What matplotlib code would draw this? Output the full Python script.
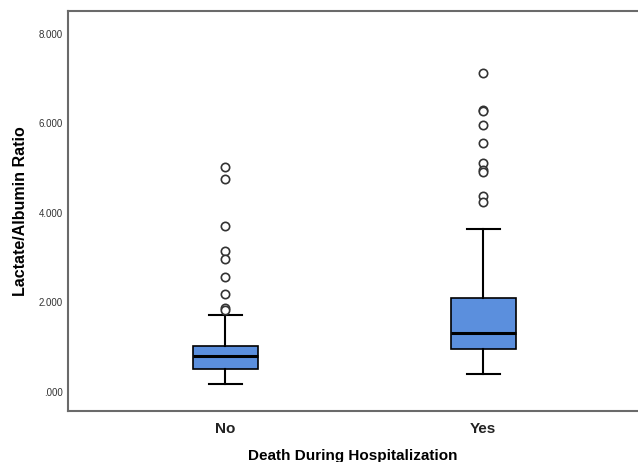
import numpy as np
import matplotlib.pyplot as plt

plt.rcParams['font.family'] = ['Liberation Sans', 'DejaVu Sans']

groups = ['No', 'Yes']
q1 = [0.51, 0.96]
median = [0.80, 1.32]
q3 = [1.03, 2.10]
whislo = [0.18, 0.40]
whishi = [1.72, 3.64]
outliers_no = [5.02, 4.76, 3.71, 3.15, 2.97, 2.57, 2.19, 1.88, 1.83]
outliers_yes = [7.13, 6.31, 6.29, 5.97, 5.56, 5.12, 4.96, 4.92, 4.38, 4.24]
yticks = [0, 2, 4, 6, 8]
ytick_labels = ['.000', '2.000', '4.000', '6.000', '8.000']

fig = plt.figure(figsize=(6.38, 4.62), dpi=100)
ax = fig.add_axes([0.1066, 0.1104, 0.8934, 0.8658])

stats = []
for i, g in enumerate(groups):
    stats.append({'label': g, 'q1': q1[i], 'med': median[i], 'q3': q3[i],
                  'whislo': whislo[i], 'whishi': whishi[i],
                  'fliers': [outliers_no, outliers_yes][i]})

ax.bxp(stats, positions=[1, 2], widths=0.252, patch_artist=True,
       boxprops=dict(facecolor='#5b8fdd', edgecolor='black', linewidth=1.2),
       medianprops=dict(color='black', linewidth=2.2),
       whiskerprops=dict(color='black', linewidth=1.5),
       capprops=dict(color='black', linewidth=1.5),
       capwidths=0.128,
       flierprops=dict(marker='o', markersize=6, markerfacecolor='white',
                       markeredgecolor='#333333', markeredgewidth=1.2))

ax.set_xlim(0.39, 2.60)
ax.set_ylim(-0.425, 8.514)
ax.set_yticks(yticks)
ax.set_yticklabels(ytick_labels, fontsize=7, color='#333333')
ax.set_xticks([1, 2])
ax.set_xticklabels(groups, fontsize=11, fontweight='bold', color='#222222')
ax.tick_params(axis='y', length=0, pad=4)
ax.tick_params(axis='x', length=0, pad=8)

ax.set_ylabel('Lactate/Albumin Ratio', fontsize=11.5, fontweight='bold', labelpad=7)
ax.set_xlabel('Death During Hospitalization', fontsize=11, fontweight='bold', labelpad=9)

for s in ['left', 'top', 'bottom']:
    ax.spines[s].set_color('#6a6a6a')
    ax.spines[s].set_linewidth(1.5)
ax.spines['right'].set_visible(False)

fig.savefig('out.png', dpi=100)
